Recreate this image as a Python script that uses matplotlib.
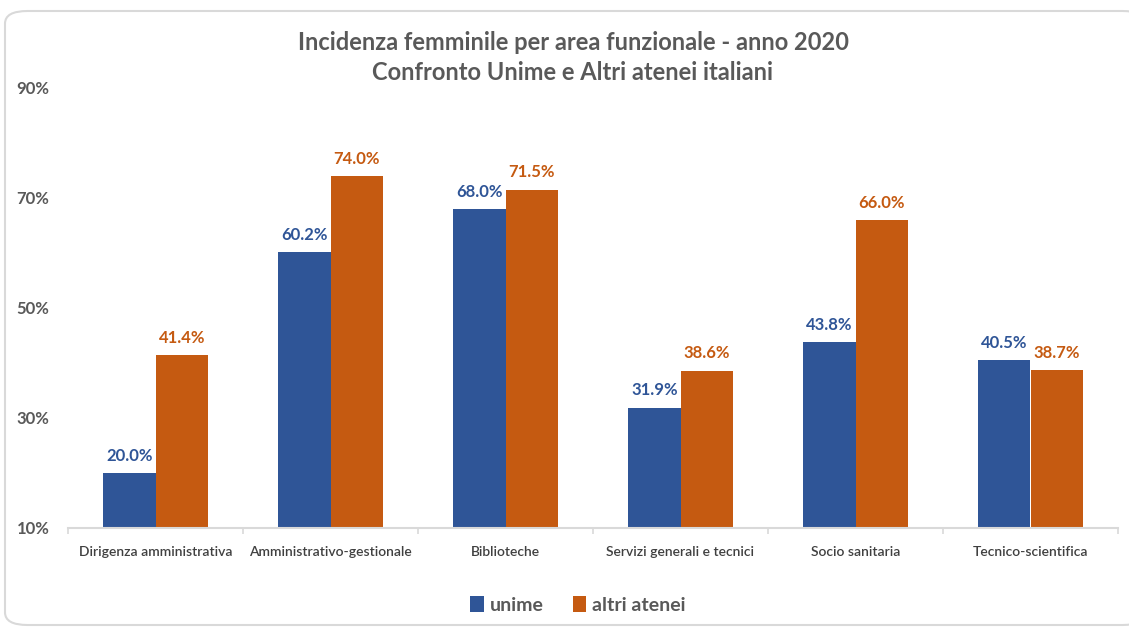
import matplotlib
matplotlib.use("Agg")
import matplotlib.pyplot as plt
from matplotlib.patches import FancyBboxPatch
import numpy as np

categories = ["Dirigenza amministrativa", "Amministrativo-gestionale", "Biblioteche",
              "Servizi generali e tecnici", "Socio sanitaria", "Tecnico-scientifica"]
unime = [20.0, 60.2, 68.0, 31.9, 43.8, 40.5]
altri = [41.4, 74.0, 71.5, 38.6, 66.0, 38.7]
yticks = [10, 30, 50, 70, 90]

BLUE = "#2F5597"
ORANGE = "#C55A11"
GRAY = "#595959"

plt.rcParams['font.family'] = ['Lato', 'DejaVu Sans']

fig = plt.figure(figsize=(11.29, 6.29), dpi=100)
card = FancyBboxPatch((5/1129, 4/629), 1140/1129, (618-4)/629,
                      boxstyle="round,pad=0,rounding_size=0.02",
                      transform=fig.transFigure, facecolor="white",
                      edgecolor="#D9D9D9", linewidth=1.5, zorder=-10)
fig.patches.append(card)

ax = fig.add_axes([68/1129, 1-528/629, (1118-68)/1129, (528-88)/629])
ax.set_facecolor("none")
ax.set_zorder(5)
x = np.arange(len(categories))
w = 0.3
b1 = ax.bar(x - w/2, np.array(unime) - 10, w, bottom=10, color=BLUE, label="unime")
b2 = ax.bar(x + w/2, np.array(altri) - 10, w, bottom=10, color=ORANGE, label="altri atenei")

for xi, v in zip(x, unime):
    ax.text(xi - w/2, v + 1.7, f"{v:.1f}%", ha="center", va="bottom", color=BLUE,
            fontsize=12, fontweight="bold")
for xi, v in zip(x, altri):
    ax.text(xi + w/2, v + 1.7, f"{v:.1f}%", ha="center", va="bottom", color=ORANGE,
            fontsize=12, fontweight="bold")

ax.set_xlim(-0.5, len(categories) - 0.5)
ax.set_ylim(10, 90)
ax.set_yticks(yticks)
ax.set_yticklabels([f"{t}%" for t in yticks], fontsize=12, fontweight="bold", color=GRAY)
ax.set_xticks(x)
ax.set_xticklabels(categories, fontsize=10, color="#404040", fontweight="semibold")
ax.set_xticks(np.arange(len(categories) + 1) - 0.5, minor=True)
ax.tick_params(axis="x", which="major", length=0, pad=13)
ax.tick_params(axis="x", which="minor", length=4, color="#D9D9D9", direction="out", width=1.2)
ax.tick_params(axis="y", length=0, pad=37)
for t in ax.get_yticklabels():
    t.set_ha("left")
for s in ["top", "right", "left"]:
    ax.spines[s].set_visible(False)
ax.spines["bottom"].set_color("#D9D9D9")
ax.spines["bottom"].set_linewidth(1.5)

fig.text(573/1129, 1-42/629, "Incidenza femminile per area funzionale - anno 2020",
         ha="center", va="center", fontsize=17, fontweight="bold", color=GRAY)
fig.text(573/1129, 1-73/629, "Confronto Unime e Altri atenei italiani",
         ha="center", va="center", fontsize=17, fontweight="bold", color=GRAY)

leg = fig.legend(handles=[b1, b2], loc="center", bbox_to_anchor=(578/1129, 1-605/629),
                 ncol=2, frameon=False, fontsize=14, handlelength=0.7, handleheight=0.9,
                 handletextpad=0.3, columnspacing=1.5)
for t in leg.get_texts():
    t.set_color(GRAY)
    t.set_fontweight("bold")

fig.savefig("out.png", dpi=100)
